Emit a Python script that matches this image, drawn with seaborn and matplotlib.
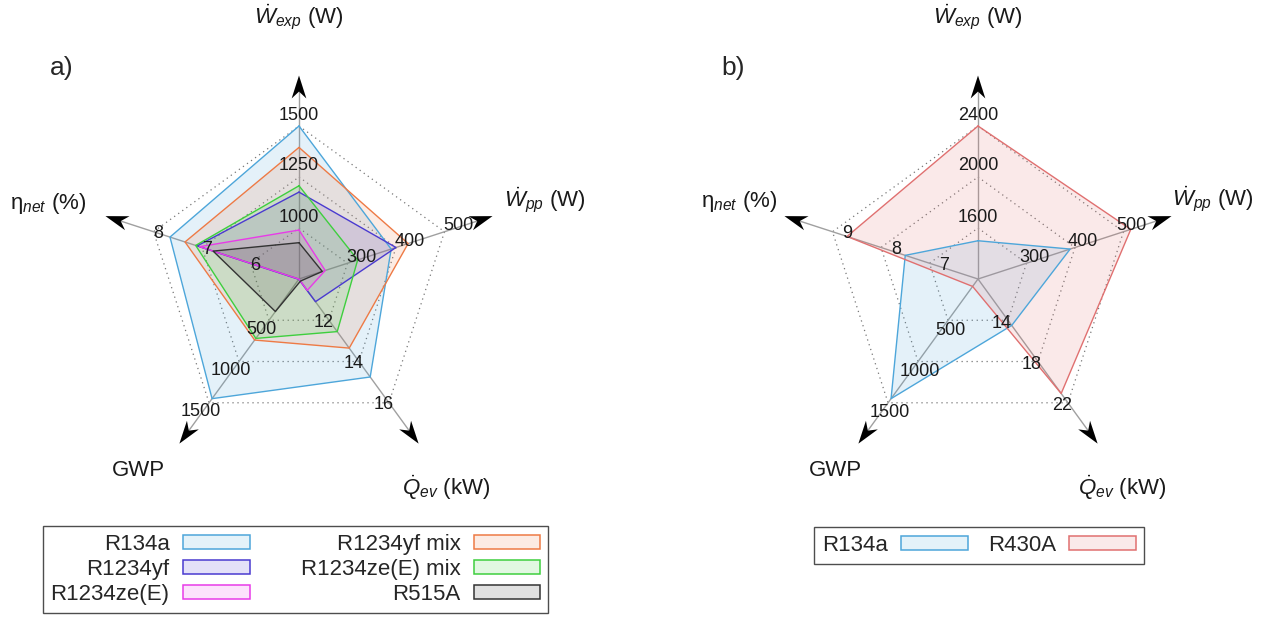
import matplotlib.pyplot as plt
import numpy as np
import seaborn as sns
from matplotlib.patches import Patch

# five radar axes, clockwise from the top
axis_titles = [r"$\dot{W}_{exp}$ (W)", r"$\dot{W}_{pp}$ (W)", r"$\dot{Q}_{ev}$ (kW)",
               "GWP", r"η$_{net}$ (%)"]
angles_deg = [90, 18, -54, -126, 162]

# panel a) values: [W_exp, W_pp, Q_ev, GWP, eta_net]
a_names = ["R134a", "R1234yf", "R1234ze(E)", "R1234yf mix", "R1234ze(E) mix", "R515A"]
a_r134a = [1500, 390, 14.75, 1450, 7.66]
a_r1234yf = [1176, 400, 11.1, 4, 7.10]
a_r1234ze = [990, 254, 10.55, 1, 7.05]
a_r1234yf_mix = [1395, 425, 13.35, 740, 7.35]
a_r1234ze_mix = [1207, 321, 12.55, 720, 7.13]
a_r515a = [928, 248, 10.1, 394, 6.77]
a_low = [750, 200, 10, 0, 5]
a_high = [1500, 500, 16, 1500, 8]
a_ticks = [[1000, 1250, 1500], [300, 400, 500], [12, 14, 16], [500, 1000, 1500], [6, 7, 8]]

# panel b) values
b_names = ["R134a", "R430A"]
b_r134a = [1500, 390, 14.5, 1450, 7.5]
b_r430a = [2400, 515, 21.1, 90, 8.7]
b_low = [1200, 200, 10, 0, 6]
b_high = [2400, 500, 22, 1500, 9]
b_ticks = [[1600, 2000, 2400], [300, 400, 500], [14, 18, 22], [500, 1000, 1500], [7, 8, 9]]

a_colors = ["#4da6da", "#4a3ad0", "#e83be8", "#ee7a45", "#3ecf3e", "#333333"]
b_colors = ["#4da6da", "#e07070"]

sns.set_theme(style="white")
plt.rcParams["font.family"] = ["Liberation Sans", "DejaVu Sans"]
plt.rcParams["mathtext.fontset"] = "custom"
plt.rcParams["mathtext.rm"] = "Liberation Sans"
plt.rcParams["mathtext.it"] = "Liberation Sans:italic"

W, H = 1264, 623
R = 153.0  # pixel radius of outer ring
S = 600.0

fig = plt.figure(figsize=(W / 100, H / 100), dpi=100)

theta = np.deg2rad(angles_deg)
ux, uy = np.cos(theta), np.sin(theta)


def radar_axes(cx, cy):
    ax = fig.add_axes([(cx - S / 2) / W, (H - cy - S / 2) / H, S / W, S / H])
    lim = S / 2 / R
    ax.set_xlim(-lim, lim)
    ax.set_ylim(-lim, lim)
    ax.axis("off")
    return ax


def draw_radar(ax, series, colors, low, high, ticks, tick_off, title_pos):
    low = np.array(low, float)
    high = np.array(high, float)
    # dotted rings
    for k in (1, 2, 3):
        r = k / 3
        ax.plot(np.append(r * ux, r * ux[0]), np.append(r * uy, r * uy[0]),
                ls=(0, (1, 3)), color="#777777", lw=0.9, zorder=1)
    # spokes and arrow heads
    tip, L, w, n = 1.33, 0.15, 0.048, 0.045
    for i in range(5):
        u = np.array([ux[i], uy[i]])
        v = np.array([-uy[i], ux[i]])
        ax.plot([0, (tip - L + n) * u[0]], [0, (tip - L + n) * u[1]],
                color="#a0a0a0", lw=1.0, zorder=1)
        head = np.array([tip * u, (tip - L) * u + w * v, (tip - L + n) * u, (tip - L) * u - w * v])
        ax.fill(head[:, 0], head[:, 1], color="black", lw=0, zorder=5)
    # polygons
    for vals, col in zip(series, colors):
        r = (np.array(vals, float) - low) / (high - low)
        x = np.append(r * ux, r[0] * ux[0])
        y = np.append(r * uy, r[0] * uy[0])
        ax.fill(x, y, color=col, alpha=0.15, lw=0, zorder=2)
        sns.lineplot(x=x, y=y, sort=False, estimator=None, color=col, lw=1.0, ax=ax, zorder=3)
    # tick labels
    for i in range(5):
        for t in ticks[i]:
            r = (t - low[i]) / (high[i] - low[i])
            ax.annotate(str(t), xy=(r * ux[i], r * uy[i]), xytext=tick_off[i],
                        textcoords="offset pixels", ha="center", va="center",
                        fontsize=13, color="#1a1a1a", zorder=6)
    # axis titles
    for i in range(5):
        rr, ang = title_pos[i]
        ang = np.deg2rad(ang)
        ax.text(rr * np.cos(ang), rr * np.sin(ang), axis_titles[i], ha="center", va="center",
                fontsize=16, color="#1a1a1a")


ax_a = radar_axes(299, 279)
draw_radar(ax_a, [a_r134a, a_r1234yf, a_r1234ze, a_r1234yf_mix, a_r1234ze_mix, a_r515a],
           a_colors, a_low, a_high, a_ticks,
           [(0, 11), (14, 6), (-5, -2), (-8, -9), (5, -2)],
           [(1.71, 90), (1.69, 17.8), (1.67, -54.9), (1.63, -130), (1.71, 163.2)])

ax_b = radar_axes(978, 279)
draw_radar(ax_b, [b_r134a, b_r430a], b_colors, b_low, b_high, b_ticks,
           [(0, 11), (8, 6), (-6, -3), (2, -10), (15, -2)],
           [(1.71, 90), (1.62, 18.7), (1.66, -55.4), (1.56, -126.8), (1.64, 162)])

fig.text(62 / W, 1 - 68 / H, "a)", fontsize=19, ha="center", va="center")
fig.text(733 / W, 1 - 68 / H, "b)", fontsize=19, ha="center", va="center")


def patches(colors):
    out = []
    for c in colors:
        rgb = np.array(plt.matplotlib.colors.to_rgb(c))
        face = 1 - 0.15 * (1 - rgb)
        out.append(Patch(facecolor=face, edgecolor=c, lw=1.1))
    return out


leg_kw = dict(loc="center", markerfirst=False, frameon=True, fancybox=False,
              fontsize=16, handlelength=3.0, handleheight=0.6, handletextpad=0.6,
              borderpad=0.35, labelspacing=0.18, borderaxespad=0)
leg_a = fig.legend(patches(a_colors), a_names, ncol=2, columnspacing=2.3,
                   bbox_to_anchor=(295.5 / W, 1 - 569.5 / H), **leg_kw)
leg_b = fig.legend(patches(b_colors), b_names, ncol=2, columnspacing=0.9,
                   bbox_to_anchor=(979 / W, 1 - 545.5 / H), **leg_kw)
for leg in (leg_a, leg_b):
    leg.get_frame().set_edgecolor("#222222")
    leg.get_frame().set_linewidth(1.0)

fig.savefig("out.png", dpi=100)
